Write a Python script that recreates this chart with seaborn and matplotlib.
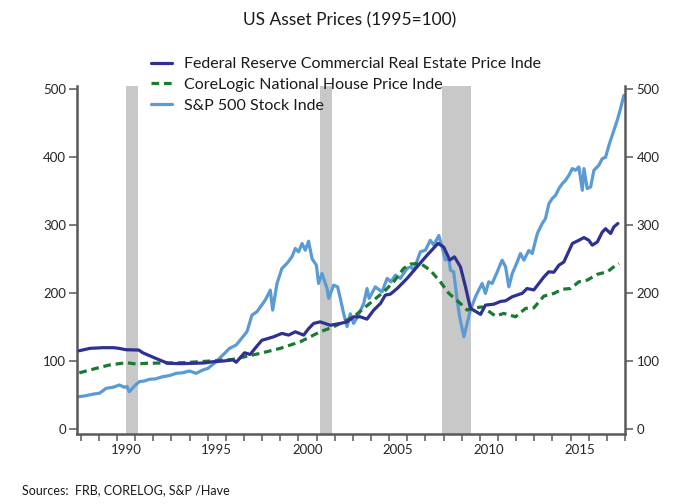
import numpy as np
import pandas as pd
import matplotlib
matplotlib.use("Agg")
import matplotlib.pyplot as plt
import seaborn as sns

# values (index, 1995=100)
cre_years = [1987.92, 1988.5, 1989.21, 1989.8, 1990.11, 1990.5, 1991.2, 1991.42, 1992.16, 1992.8,
             1993.5, 1994.2, 1994.8, 1995.28, 1995.9, 1996.39, 1996.57, 1997.03, 1997.34, 1997.67,
             1997.99, 1998.26, 1998.63, 1999.09, 1999.46, 1999.83, 2000.29, 2000.56, 2000.84, 2001.2,
             2001.76, 2002.31, 2002.68, 2003.04, 2003.41, 2003.78, 2004.15, 2004.52, 2004.79, 2005.07,
             2005.44, 2005.99, 2006.54, 2007.09, 2007.7, 2008.01, 2008.34, 2008.6, 2008.93, 2009.21,
             2009.48, 2010.04, 2010.31, 2010.77, 2011.14, 2011.42, 2011.79, 2012.34, 2012.6, 2012.98,
             2013.53, 2013.8, 2014.08, 2014.36, 2014.63, 2015.1, 2015.46, 2015.74, 2016.01, 2016.2,
             2016.48, 2016.75, 2016.93, 2017.21, 2017.39, 2017.61]
cre_values = [115.5, 119, 120, 120, 119, 117, 116.5, 112.5, 104, 97,
              96.5, 97, 97.5, 99.3, 100.5, 102, 98.5, 112.5, 110, 121,
              131, 133, 136, 141, 138.5, 143.4, 138.5, 148, 155.7, 158,
              153, 155.7, 158, 165.4, 165.4, 162, 175.3, 185, 197.3, 198.8,
              207, 221.9, 239, 256, 273.5, 268, 249, 253.6, 239, 209.5,
              178, 169, 182.6, 184, 188, 189, 195, 200, 207, 205,
              224, 231.6, 231, 241.4, 246, 273.3, 278, 282, 278, 270.8,
              275.6, 290, 295, 288, 297.7, 302.7]

house_years = [1987.92, 1988.85, 1989.58, 1990.5, 1991.05, 1991.6, 1992.6, 1993.63, 1995.1, 1996.39,
               1996.79, 1997.9, 1999.0, 2000.1, 2001.2, 2001.94, 2002.31, 2003.04, 2003.6, 2004.15,
               2004.7, 2005.25, 2005.8, 2006.17, 2006.72, 2007.27, 2007.82, 2008.29, 2008.93, 2009.3,
               2009.57, 2010.12, 2010.4, 2010.86, 2011.32, 2011.97, 2012.52, 2012.98, 2013.53, 2014.08,
               2014.55, 2015.0, 2015.46, 2015.92, 2016.48, 2017.03, 2017.39, 2017.67]
house_values = [83, 89.6, 94.5, 97.9, 96, 97, 97.5, 97.9, 100.3, 102.8,
                105.2, 111.7, 119, 128.7, 143.4, 150.7, 155.7, 165.4, 177.8, 190,
                202, 216.9, 236.6, 243, 244, 234, 217, 200, 185, 175.3,
                177.8, 180, 175.3, 166.5, 170.4, 165.5, 177.8, 178.7, 195.9, 199.8,
                206, 207, 216.9, 219.4, 228, 231.6, 239, 244]

sp_years = [1987.92, 1988.2, 1988.47, 1988.75, 1989.03, 1989.4, 1989.77, 1990.13, 1990.41, 1990.55,
            1990.68, 1990.96, 1991.23, 1991.5, 1991.79, 1992.1, 1992.52, 1992.9, 1993.26, 1993.6,
            1993.99, 1994.36, 1994.73, 1995.01, 1995.47, 1995.84, 1996.2, 1996.57, 1996.94, 1997.16,
            1997.44, 1997.71, 1997.9, 1998.17, 1998.45, 1998.58, 1998.82, 1999.09, 1999.37, 1999.64,
            1999.83, 2000.01, 2000.2, 2000.38, 2000.56, 2000.75, 2000.99, 2001.11, 2001.3, 2001.58,
            2001.67, 2001.94, 2002.16, 2002.31, 2002.49, 2002.68, 2002.86, 2003.04, 2003.25, 2003.6,
            2003.78, 2003.9, 2004.24, 2004.61, 2004.89, 2005.1, 2005.35, 2005.62, 2005.99, 2006.2,
            2006.36, 2006.72, 2007.0, 2007.27, 2007.46, 2007.74, 2007.92, 2008.1, 2008.29, 2008.38,
            2008.56, 2008.75, 2008.89, 2009.12, 2009.3, 2009.48, 2009.76, 2009.94, 2010.13, 2010.31,
            2010.49, 2010.68, 2010.96, 2011.23, 2011.42, 2011.6, 2011.79, 2012.06, 2012.24, 2012.43,
            2012.7, 2012.89, 2013.17, 2013.44, 2013.62, 2013.81, 2013.99, 2014.18, 2014.36, 2014.55,
            2014.73, 2014.91, 2015.1, 2015.28, 2015.46, 2015.65, 2015.74, 2015.92, 2016.11, 2016.29,
            2016.56, 2016.75, 2016.93, 2017.12, 2017.39, 2017.58, 2017.76, 2017.94]
sp_values = [47.9, 49, 50.4, 52, 52.9, 60.2, 61.7, 65.1, 61.7, 63,
             55.2, 63.6, 70, 71, 73.5, 74, 77.3, 79, 82.3, 83,
             85.7, 82.3, 87.1, 89.6, 99.3, 109.2, 119, 123.9, 136, 143.4,
             168, 172.8, 180, 190, 204.7, 175.3, 214.5, 236.6, 244, 253.6,
             266, 261, 273.3, 263.4, 276.7, 251, 241.4, 214.5, 229.2, 207,
             192.5, 212, 209.5, 192.5, 170.4, 151, 170, 155.7, 165, 185,
             207, 192.5, 209.5, 202, 221.9, 217, 226.7, 222, 236.6, 239,
             234, 261, 263.4, 278, 271, 285, 268, 249, 251, 234,
             231.6, 190, 165.4, 136, 155.7, 175.3, 194.8, 204.7, 214.5, 199.8,
             216.9, 214.5, 231.6, 248.8, 239, 209.5, 229.2, 246, 258.6, 248.8,
             263, 258.6, 288, 302.7, 310, 332, 339.4, 344.3, 354.1, 361.4,
             366.3, 373.6, 383.5, 381, 385.9, 351.6, 383.5, 354.1, 356.5, 381,
             388.3, 398.2, 400, 418, 440, 455, 472, 491.2]

series_names = ["Federal Reserve Commercial Real Estate Price Inde",
                "CoreLogic National House Price Inde",
                "S&P 500 Stock Inde"]
recessions = [(1990.5, 1991.17), (2001.17, 2001.83), (2007.92, 2009.5)]
label_years = [1990, 1995, 2000, 2005, 2010, 2015]

sns.set_style("ticks")
plt.rcParams['font.family'] = ['Lato', 'DejaVu Sans']
plt.rcParams['text.color'] = '#1a1a1a'

fig = plt.figure(figsize=(7, 5.04), dpi=100)
ax = fig.add_axes([77.3 / 700, 1 - 434 / 504, (625.3 - 77.3) / 700, (434 - 86) / 504])

# recession shading
for start, end in recessions:
    ax.axvspan(start, end, color='#c8c8c8', lw=0, zorder=0)

cre = pd.DataFrame({'year': cre_years, 'value': cre_values})
house = pd.DataFrame({'year': house_years, 'value': house_values})
sp = pd.DataFrame({'year': sp_years, 'value': sp_values})

sns.lineplot(data=cre, x='year', y='value', ax=ax, color='#2e3192', lw=2.3,
             label=series_names[0], zorder=4)
sns.lineplot(data=house, x='year', y='value', ax=ax, color='#1b7a32', lw=2.3,
             linestyle=(0, (2.4, 1.5)), label=series_names[1], zorder=3)
sns.lineplot(data=sp, x='year', y='value', ax=ax, color='#5b9bd5', lw=2.3,
             label=series_names[2], zorder=2)

ax.set_xlim(1987.81, 2018.02)
ax.set_ylim(-7, 505)
ax.set_xlabel('')
ax.set_ylabel('')

# yearly ticks at year boundaries, labels centred in the year
ax.set_xticks(np.arange(1988, 2019))
ax.set_xticklabels([])
ax.set_xticks([y + 0.5 for y in label_years], minor=True)
ax.set_xticklabels([str(y) for y in label_years], minor=True)
ax.tick_params(axis='x', which='major', length=5, width=1.1, color='#595959', direction='out')
ax.tick_params(axis='x', which='minor', length=0, pad=7, labelsize=9.5)

ax.set_yticks(range(0, 501, 100))
ax.tick_params(axis='y', left=True, right=True, labelleft=True, labelright=True,
               length=6, width=1.1, color='#595959', pad=2, labelsize=9.5)

ax.spines['top'].set_visible(False)
for side in ['left', 'right', 'bottom']:
    ax.spines[side].set_color('#595959')
    ax.spines[side].set_linewidth(1.8)

ax.legend(loc='upper left', bbox_to_anchor=(143 / 700, 1 - 49 / 504),
          bbox_transform=fig.transFigure, frameon=False, borderpad=0,
          handlelength=1.3, handletextpad=0.75, labelspacing=0.42, fontsize=11.5)

fig.text(0.5, 1 - 20 / 504, 'US Asset Prices (1995=100)', ha='center', va='center', fontsize=12.5)
fig.text(22 / 700, 1 - 490 / 504, 'Sources:  FRB, CORELOG, S&P /Have', ha='left', va='center',
         fontsize=9)

fig.savefig('out.png', dpi=100)
